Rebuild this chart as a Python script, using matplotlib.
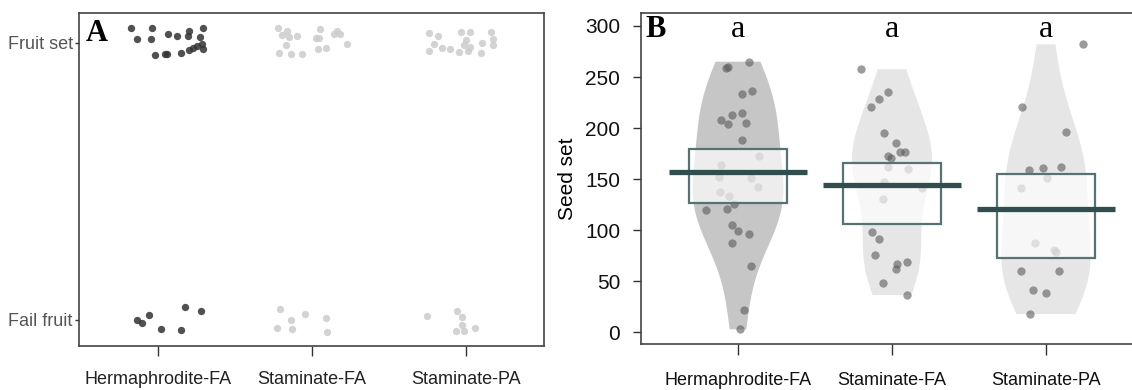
import matplotlib.pyplot as plt
import numpy as np
from matplotlib.patches import Rectangle

plt.rcParams['font.family'] = ['Liberation Sans', 'DejaVu Sans']

groups = ["Hermaphrodite-FA", "Staminate-FA", "Staminate-PA"]
outcome_labels = ["Fail fruit", "Fruit set"]

# A: jitter of each flower around its group / outcome
set_jx = [[-0.173, -0.040, -0.138, -0.047, 0.064, 0.122, 0.203, 0.192, 0.289, 0.273,
           0.284, 0.289, -0.022, 0.045, 0.059, 0.152, 0.199, 0.227, 0.254],
          [-0.221, -0.162, -0.192, -0.152, -0.096, -0.168, -0.212, -0.134, -0.066,
           0.049, 0.025, 0.042, 0.036, 0.090, 0.140, 0.165, 0.179, 0.226],
          [-0.243, -0.185, -0.208, -0.243, -0.155, -0.104, -0.034, 0.023, 0.001,
           -0.011, -0.046, 0.012, 0.094, 0.105, 0.163, 0.175, 0.175, 0.023]]
set_jy = [[0.053, 0.055, 0.014, 0.014, 0.031, 0.026, 0.043, 0.026, 0.055, 0.021,
           -0.005, -0.023, -0.043, -0.040, -0.040, -0.035, -0.025, -0.019, -0.011],
          [0.054, 0.044, 0.027, 0.023, 0.025, -0.009, -0.036, -0.040, -0.040,
           0.049, 0.019, 0.016, -0.022, -0.019, 0.033, 0.044, 0.032, -0.004],
          [0.037, 0.026, -0.005, -0.029, -0.019, -0.023, 0.041, 0.041, 0.011,
           -0.007, -0.031, -0.028, -0.037, -0.001, 0.041, 0.013, -0.007, -0.013]]
fail_jx = [[-0.134, -0.102, -0.056, 0.018, 0.147, 0.175, 0.281],
           [-0.208, -0.138, -0.044, 0.089, -0.225, -0.130, 0.099],
           [-0.253, -0.060, -0.028, -0.028, -0.065, -0.013, 0.058]]
fail_jy = [[0.0, -0.010, 0.017, -0.034, -0.038, 0.046, 0.032],
           [0.039, 0.0, 0.021, 0.008, -0.030, -0.034, -0.043],
           [0.016, 0.034, 0.012, -0.018, -0.039, -0.039, -0.030]]

# B: seeds per fruit
seed_herm = [259.2, 260.0, 265.0, 233.0, 236.5, 207.5, 212.8, 204.0, 215.0, 205.3,
             188.3, 172.3, 163.5, 152.0, 150.8, 142.0, 137.4, 133.0, 119.8, 120.6,
             125.2, 104.7, 99.5, 96.5, 87.5, 64.9, 22.2, 2.9]
seed_sfa = [257.6, 235.0, 228.5, 221.0, 194.9, 185.7, 172.7, 170.4, 176.9, 176.9,
            161.6, 160.0, 147.5, 141.0, 130.6, 98.5, 91.4, 75.7, 66.6, 61.7,
            68.6, 48.0, 36.5]
seed_spa = [282.0, 221.0, 195.9, 159.0, 161.2, 161.6, 150.8, 141.0, 87.2, 80.6,
            79.0, 60.3, 60.3, 41.4, 38.2, 17.9]
herm_jx = [-0.078, -0.063, 0.069, 0.024, 0.091, -0.110, -0.042, -0.065, 0.024, 0.052,
           0.024, 0.136, -0.110, -0.123, 0.084, 0.130, -0.115, -0.058, -0.208, -0.071,
           -0.025, -0.039, 0.001, 0.069, -0.042, 0.085, 0.040, 0.015]
sfa_jx = [-0.202, -0.029, -0.084, -0.136, -0.055, 0.023, -0.024, -0.005, 0.054, 0.082,
          -0.029, 0.106, -0.053, 0.192, -0.060, -0.129, -0.084, -0.112, 0.030, 0.023,
          0.097, -0.060, 0.097]
spa_jx = [0.243, -0.157, 0.132, -0.112, -0.022, 0.096, 0.008, -0.164, -0.069, 0.054,
          0.062, -0.160, 0.084, -0.086, -0.003, -0.105]
hdi_low = [126.3, 106.1, 72.5]
hdi_high = [179.2, 165.8, 154.7]
letters = ["a", "a", "a"]

seeds = [seed_herm, seed_sfa, seed_spa]
seed_jx = [herm_jx, sfa_jx, spa_jx]
dot_colors = ['#333333', '#cccccc', '#cccccc']
bean_colors = ['#c6c6c6', '#e6e6e6', '#e6e6e6']
bean_widths = [0.59, 0.52, 0.58]


def smooth_bw(kde):
    # Silverman-style bandwidth on the sd, a bit wider than R's nrd0
    n = kde.dataset.shape[1]
    return 1.06 * n ** -0.2


fig = plt.figure(figsize=(11.32, 3.9), dpi=100)
W, H = 1132, 390
axA = fig.add_axes([79 / W, 44 / H, 465 / W, 333 / H])
axB = fig.add_axes([641 / W, 46 / H, 502 / W, 331 / H])

# ---- A: fruit set ----
for i in range(3):
    xs = i + 1 + np.array(set_jx[i])
    ys = 1 + np.array(set_jy[i])
    axA.scatter(xs, ys, s=28, color=dot_colors[i], alpha=0.85, linewidths=0)
    xs = i + 1 + np.array(fail_jx[i])
    ys = 0 + np.array(fail_jy[i])
    axA.scatter(xs, ys, s=28, color=dot_colors[i], alpha=0.85, linewidths=0)

axA.set_xlim(0.487, 3.506)
axA.set_ylim(-0.094, 1.108)
axA.set_xticks([1, 2, 3])
axA.set_xticklabels(groups, fontsize=13, color='#222222')
axA.set_yticks([0, 1])
axA.set_yticklabels(outcome_labels, fontsize=13, color='#555555')
axA.tick_params(axis='x', length=7, width=1, color='#333333', pad=11)
axA.tick_params(axis='y', length=3, width=1, color='#333333', pad=1.5)
for sp in axA.spines.values():
    sp.set_color('#444444')
    sp.set_linewidth(1.2)
axA.text(0.015, 0.917, "A", transform=axA.transAxes, fontsize=22, fontweight='bold',
         family='Liberation Serif', va='baseline', ha='left')

# ---- B: seed set ----
for i in range(3):
    vp = axB.violinplot(seeds[i], positions=[i + 1], widths=bean_widths[i],
                        showextrema=False, bw_method=smooth_bw, points=200)
    for body in vp['bodies']:
        body.set_facecolor(bean_colors[i])
        body.set_edgecolor('none')
        body.set_alpha(1)
        body.set_zorder(1)
    axB.scatter(i + 1 + np.array(seed_jx[i]), seeds[i], s=36, color='#5a5a5a',
                alpha=0.6, linewidths=0, zorder=2)
    axB.add_patch(Rectangle((i + 1 - 0.32, hdi_low[i]), 0.64, hdi_high[i] - hdi_low[i],
                            facecolor=(1, 1, 1, 0.7), edgecolor='#557373', lw=1.6,
                            zorder=3))
    axB.hlines(np.mean(seeds[i]), i + 1 - 0.45, i + 1 + 0.45, color='#2f4f4f',
               lw=3.8, zorder=4)
    axB.text(i + 1, 289, letters[i], fontsize=23, family='Liberation Serif',
             ha='center', va='baseline')

axB.set_xlim(0.37, 3.63)
axB.set_ylim(-11.5, 312.7)
axB.set_xticks([1, 2, 3])
axB.set_xticklabels(groups, fontsize=13, color='#111111')
axB.set_yticks(np.arange(0, 301, 50))
axB.tick_params(axis='y', labelsize=15, labelcolor='#111111', length=6, width=1,
                color='#333333', pad=9)
axB.tick_params(axis='x', length=8, width=1, color='#333333', pad=12)
axB.set_ylabel("Seed set", fontsize=15)
axB.yaxis.set_label_coords(-0.128, 0.5)
for sp in axB.spines.values():
    sp.set_color('#444444')
    sp.set_linewidth(1.2)
axB.text(0.008, 0.927, "B", transform=axB.transAxes, fontsize=22, fontweight='bold',
         family='Liberation Serif', va='baseline', ha='left')

fig.savefig("out.png", dpi=100)
